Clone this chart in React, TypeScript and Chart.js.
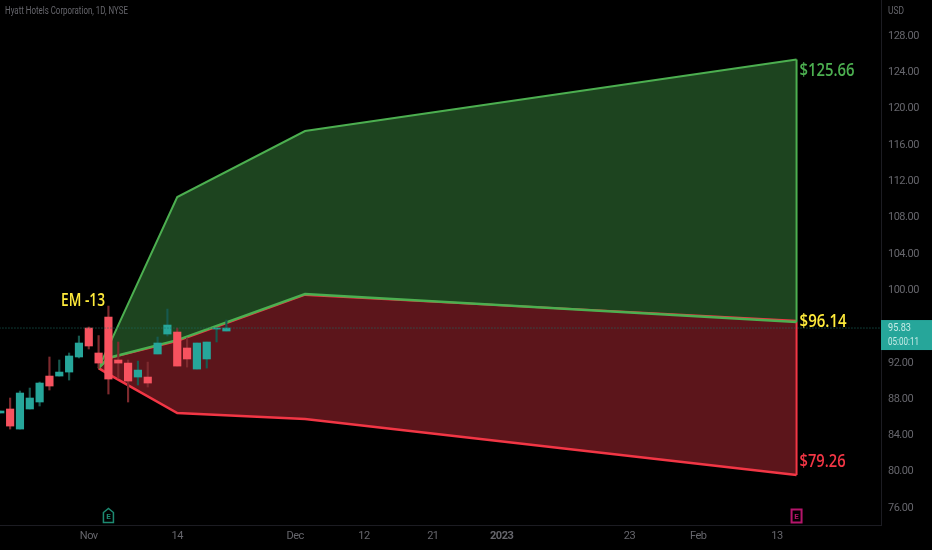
import React, { useEffect, useRef } from "react";
import { Chart, registerables } from "chart.js";

Chart.register(...registerables);

const title = "Hyatt Hotels Corporation, 1D, NYSE";
const currency = "USD";
const lastPrice = 95.83;
const countdown = "05:00:11";

const opens = [86.47, 86.91, 84.7, 86.91, 87.68, 90.54, 90.54, 90.98, 92.64, 95.83, 93.08, 97.04, 92.31, 91.97, 90.43, 90.43, 92.97, 95.17, 95.39, 93.63, 91.31, 92.42, 95.72, 95.5];
const highs = [86.69, 88.12, 88.89, 89.22, 89.88, 92.64, 92.31, 93.08, 94.95, 95.94, 95.0, 98.25, 94.29, 92.31, 92.19, 92.08, 94.84, 97.92, 95.83, 94.73, 94.18, 94.29, 95.83, 96.71];
const lows = [86.47, 84.7, 84.7, 86.91, 87.24, 89.0, 90.54, 90.1, 92.53, 93.52, 91.42, 88.56, 90.32, 87.68, 89.55, 89.33, 92.97, 94.95, 91.64, 91.53, 91.31, 91.42, 94.29, 95.5];
const closes = [86.69, 85.03, 88.67, 88.12, 89.77, 89.44, 90.98, 92.75, 94.18, 93.85, 91.97, 90.21, 91.97, 89.99, 91.2, 89.77, 94.18, 96.16, 91.64, 92.42, 94.18, 94.29, 95.83, 95.83];

const projectionDays = [10, 11, 18, 31, 81];
const upperBand = [91.42, 93.78, 110.26, 117.53, 125.41];
const middleGreen = [91.42, 92.53, 94.5, 99.58, 96.49];
const middleRed = [91.42, 92.5, 94.4, 99.48, 96.62];
const lowerBand = [91.42, 90.76, 86.47, 85.8, 79.64];

const xTickDays = [9, 18, 30, 37, 44, 51, 64, 71, 79];
const xTickLabels = ["Nov", "14", "Dec", "12", "21", "2023", "23", "Feb", "13"];
const yTicks = [76, 80, 84, 88, 92, 96, 100, 104, 108, 112, 116, 120, 124, 128];

const upperLabel = "$125.66";
const middleLabel = "$96.14";
const lowerLabel = "$79.26";
const emLabel = "EM -13";
const earningsDays = [11, 81];

const GREEN = "#4caf50";
const RED = "#f23645";
const YELLOW = "#ffeb3b";
const UP = "#26a69a";
const DOWN = "#f7525f";
const AXIS_TEXT = "#66666c";
const TICK_FONT = 'Roboto, sans-serif';
const NOTE_FONT = '"Open Sans", sans-serif';
const END = projectionDays.length - 1;

const pts = (ys: number[]) => ys.map((y, i) => ({ x: projectionDays[i], y }));
const isUp = (i: number) => closes[i] >= opens[i];

function fitText(ctx: any, text: string, x: number, y: number, width: number) {
  const natural = ctx.measureText(text).width;
  ctx.save();
  ctx.translate(x, y);
  ctx.scale(width / natural, 1);
  ctx.fillText(text, 0, 0);
  ctx.restore();
}

const clearPadding = (s: any) => {
  s.paddingTop = 0;
  s.paddingBottom = 0;
  s.paddingLeft = 0;
  s.paddingRight = 0;
};

const overlay = {
  id: "overlay",
  beforeDraw(chart: any) {
    chart.ctx.letterSpacing = "-0.5px";
  },
  afterDraw(chart: any) {
    const { ctx, scales } = chart;
    const x = scales.x;
    const y = scales.y;
    const endX = x.getPixelForValue(projectionDays[END]);
    ctx.letterSpacing = "0px";
    ctx.save();
    ctx.textBaseline = "middle";
    ctx.textAlign = "left";

    ctx.font = `10.5px ${TICK_FONT}`;
    ctx.fillStyle = AXIS_TEXT;
    fitText(ctx, title, 5, 11.5, 123);
    fitText(ctx, currency, 888, 11, 16);

    ctx.font = `600 18px ${NOTE_FONT}`;
    ctx.fillStyle = GREEN;
    fitText(ctx, upperLabel, endX + 3, y.getPixelForValue(upperBand[END]) + 11.5, 55);
    ctx.fillStyle = YELLOW;
    fitText(ctx, middleLabel, endX + 3, y.getPixelForValue(middleGreen[END]), 47);
    ctx.fillStyle = RED;
    fitText(ctx, lowerLabel, endX + 3, y.getPixelForValue(lowerBand[END]) - 13, 46);
    ctx.fillStyle = YELLOW;
    fitText(ctx, emLabel, 61, y.getPixelForValue(highs[11]) - 5, 44);

    // last price tag
    const py = y.getPixelForValue(lastPrice);
    ctx.fillStyle = UP;
    ctx.fillRect(881, py - 8, 51, 30);
    ctx.fillStyle = "#c6ebe6";
    ctx.font = `11px ${TICK_FONT}`;
    fitText(ctx, lastPrice.toFixed(2), 888, py + 0.5, 23);
    fitText(ctx, countdown, 888, py + 14, 31);

    // earnings markers
    const base = 522.5;
    const ex0 = x.getPixelForValue(earningsDays[0]);
    ctx.strokeStyle = "#1d8a72";
    ctx.lineWidth = 1.5;
    ctx.beginPath();
    ctx.moveTo(ex0 - 5, base);
    ctx.lineTo(ex0 + 5, base);
    ctx.lineTo(ex0 + 5, base - 10);
    ctx.lineTo(ex0, base - 14);
    ctx.lineTo(ex0 - 5, base - 10);
    ctx.closePath();
    ctx.stroke();
    const ex1 = x.getPixelForValue(earningsDays[1]);
    ctx.strokeStyle = "#b5156b";
    ctx.lineWidth = 2;
    ctx.strokeRect(ex1 - 5, base - 13, 10, 13);
    ctx.font = `bold 8px ${TICK_FONT}`;
    ctx.textAlign = "center";
    ctx.fillStyle = "#1d8a72";
    ctx.fillText("E", ex0, base - 5.5);
    ctx.fillStyle = "#b5156b";
    ctx.fillText("E", ex1, base - 6);
    ctx.restore();
  },
};

export default function App() {
  const ref = useRef<HTMLCanvasElement>(null);
  useEffect(() => {
    document.body.style.margin = "0";
    document.body.style.background = "#000";
    const days = opens.map((_, i) => i);
    const lineBase = { type: "line", pointRadius: 0, tension: 0, borderWidth: 2 };
    const endDay = projectionDays[END];
    const chart = new Chart(ref.current as HTMLCanvasElement, {
      type: "bar",
      data: {
        datasets: [
          { ...lineBase, label: "upper", data: pts(upperBand), borderColor: GREEN, backgroundColor: "#1d441f", fill: "+1", order: 7 },
          { ...lineBase, label: "midGreen", data: pts(middleGreen), borderColor: GREEN, borderWidth: 2.5, fill: false, order: 3 },
          { ...lineBase, label: "midRed", data: pts(middleRed), borderColor: RED, backgroundColor: "#5c151b", fill: "+1", order: 6 },
          { ...lineBase, label: "lower", data: pts(lowerBand), borderColor: RED, borderWidth: 2.5, fill: false, order: 4 },
          { ...lineBase, label: "edgeGreen", data: [{ x: endDay, y: upperBand[END] }, { x: endDay, y: middleGreen[END] }], borderColor: GREEN, fill: false, order: 4 },
          { ...lineBase, label: "edgeRed", data: [{ x: endDay, y: middleGreen[END] }, { x: endDay, y: lowerBand[END] }], borderColor: RED, fill: false, order: 4 },
          { ...lineBase, label: "last", data: [{ x: -1, y: lastPrice }, { x: 90, y: lastPrice }], borderColor: "#1c6f66", borderWidth: 1, borderDash: [1, 2], fill: false, order: 0 },
          {
            label: "wicks",
            data: days.map((i) => ({ x: i, y: [lows[i], highs[i]] })),
            backgroundColor: days.map((i) => (isUp(i) ? "#17594f" : "#7d2a2e")),
            barThickness: 1.5,
            grouped: false,
            borderSkipped: false,
            order: 2,
          },
          {
            label: "bodies",
            data: days.map((i) => ({ x: i, y: [Math.min(opens[i], closes[i]), Math.max(opens[i], closes[i])] })),
            backgroundColor: days.map((i) => (isUp(i) ? UP : DOWN)),
            barThickness: 7.5,
            grouped: false,
            borderSkipped: false,
            order: 1,
          },
        ] as any,
      },
      options: {
        responsive: false,
        animation: false,
        devicePixelRatio: 1,
        layout: { padding: 0, autoPadding: false },
        plugins: { legend: { display: false }, tooltip: { enabled: false } },
        scales: {
          x: {
            type: "linear",
            offset: false,
            min: -0.03,
            max: 89.59,
            afterFit: (s: any) => { s.height = 25; clearPadding(s); },
            afterBuildTicks: (s: any) => { s.ticks = xTickDays.map((value) => ({ value })); },
            grid: { display: false, drawTicks: false },
            border: { color: "#1c1c22", width: 1 },
            ticks: {
              autoSkip: false,
              maxRotation: 0,
              padding: 5,
              color: AXIS_TEXT,
              font: (c: any) => ({
                family: TICK_FONT,
                size: 11,
                weight: xTickLabels[xTickDays.indexOf(c.tick?.value)] === "2023" ? "bold" : "normal",
              }),
              callback: (v: any) => xTickLabels[xTickDays.indexOf(v)],
            },
          },
          y: {
            type: "linear",
            position: "right",
            min: 74.13,
            max: 131.97,
            afterFit: (s: any) => { s.width = 51; clearPadding(s); },
            afterBuildTicks: (s: any) => { s.ticks = yTicks.map((value) => ({ value })); },
            grid: { display: false, drawTicks: false },
            border: { color: "#1c1c22", width: 1 },
            ticks: {
              autoSkip: false,
              padding: 7,
              color: AXIS_TEXT,
              font: { family: TICK_FONT, size: 11 },
              callback: (v: any) => Number(v).toFixed(2),
            },
          },
        },
      } as any,
      plugins: [overlay],
    });
    return () => chart.destroy();
  }, []);
  return <canvas ref={ref} width={932} height={550} style={{ display: "block", background: "#000" }} />;
}
